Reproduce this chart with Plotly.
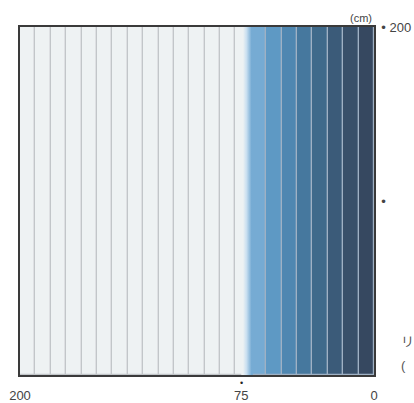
import plotly.graph_objects as go

# ---- data ----
depth_max_cm = 200
column_colors = [
    "#eef2f3", "#eef2f3", "#eef2f3", "#eef2f3", "#eef2f3",
    "#eef2f3", "#eef2f3", "#eef2f3", "#eef2f3", "#eef2f3",
    "#eef2f3", "#eef2f3", "#eef2f3", "#eef2f3", "#eef2f3",
    "#76abd3", "#5e99c4", "#4f87b1", "#46789e", "#3f6a8b",
    "#3b5b79", "#38506a", "#364860",
]
column_lines = ["#c2c6c9"] * 15 + ["#9fb1c4"] * 8
transition_cm = [74, 69]          # fade from light to blue
x_ticks = [200, 75, 0]
y_ticks = [100, 200]
y_ticktext = ["•", "• 200"]

n = len(column_colors)
w = depth_max_cm / n
centers = [depth_max_cm - (i + 0.5) * w for i in range(n)]

fig = go.Figure()
fig.add_trace(go.Bar(
    x=centers, y=[depth_max_cm] * n, width=w,
    marker=dict(color=column_colors, line=dict(color=column_lines, width=1.2)),
    hoverinfo="skip", showlegend=False,
))

a, b = transition_cm
fig.add_trace(go.Scatter(
    x=[a + 1, b - 0.6, b - 0.6, a + 1, a + 1],
    y=[0, 0, depth_max_cm, depth_max_cm, 0],
    mode="none", fill="toself",
    fillgradient=dict(type="horizontal",
                      colorscale=[[0, "#eef2f3"], [0.15, "#eef2f3"],
                                  [0.45, "#c9dff0"], [0.88, "#76abd3"],
                                  [1, "#76abd3"]]),
    hoverinfo="skip", showlegend=False,
))

font = "Liberation Sans, Arial, Noto Sans CJK JP, sans-serif"
fig.update_layout(
    width=414, height=403,
    margin=dict(l=20, r=40, t=27, b=28),
    paper_bgcolor="white", plot_bgcolor="white",
    bargap=0,
    font=dict(family=font, size=13, color="#444"),
    xaxis=dict(range=[depth_max_cm, 0], tickvals=x_ticks,
               ticktext=[str(v) for v in x_ticks], automargin=False,
               showgrid=False, zeroline=False, showline=True, mirror=True,
               linecolor="#3a3a3a", linewidth=1.5, ticks="", ticklabelstandoff=8),
    yaxis=dict(range=[0, depth_max_cm], side="right", tickvals=y_ticks,
               ticktext=y_ticktext, showgrid=False, zeroline=False,
               automargin=False,
               showline=True, mirror=True, linecolor="#3a3a3a", linewidth=1.5,
               ticks="", ticklabelstandoff=3),
    annotations=[
        dict(text="•", x=75, y=0, xref="x", yref="y", yshift=-8,
             showarrow=False, font=dict(size=9, color="#222")),
        dict(text="(cm)", x=1, y=1, xref="paper", yref="paper",
             xanchor="right", yanchor="bottom", yshift=1,
             showarrow=False, font=dict(size=11, color="#444")),
        dict(text="リ", x=1.07, y=0.095, xref="paper", yref="paper",
             xanchor="left", yanchor="middle",
             showarrow=False, font=dict(size=13, color="#555")),
        dict(text="(", x=1.07, y=0.026, xref="paper", yref="paper",
             xanchor="left", yanchor="middle",
             showarrow=False, font=dict(size=13, color="#555")),
    ],
)

fig.write_html("out.html", config={"displayModeBar": False},
               post_script="document.body.style.margin='0';"
                           "document.body.style.overflow='hidden';")
